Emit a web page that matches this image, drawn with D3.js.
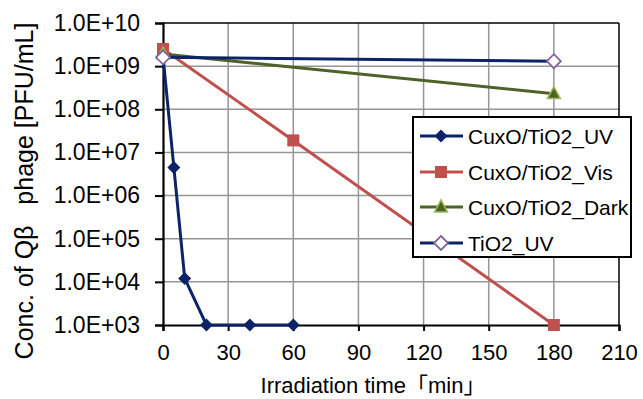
<!DOCTYPE html>
<html><head><meta charset="utf-8">
<script src="https://cdn.jsdelivr.net/npm/d3@7"></script>
<style>body{margin:0;background:#fff}svg{display:block}text{font-family:"Liberation Sans",Arial,"Noto Sans CJK JP",sans-serif;fill:#000}</style>
</head><body>
<svg id="c" width="643" height="399"></svg>
<script>
const seriesNames = ["CuxO/TiO2_UV","CuxO/TiO2_Vis","CuxO/TiO2_Dark","TiO2_UV"];
const timeUV = [0,5,10,20,40,60];
const cuxoUV = [1.7e9,4.5e6,1.2e4,1e3,1e3,1e3];
const timeVis = [0,60,180];
const cuxoVis = [2.5e9,1.9e7,1e3];
const timeDark = [0,180];
const cuxoDark = [1.9e9,2.3e8];
const timeTiO2 = [0,180];
const tio2UV = [1.6e9,1.3e9];
const xTicks = [0,30,60,90,120,150,180,210];
const yTicks = [1e3,1e4,1e5,1e6,1e7,1e8,1e9,1e10];
const yTickLabels = ["1.0E+03","1.0E+04","1.0E+05","1.0E+06","1.0E+07","1.0E+08","1.0E+09","1.0E+10"];

const svg = d3.select("#c");
const L=163,R=619,T=23,B=325;
const x = d3.scaleLinear().domain([0,210]).range([L,R]);
const y = d3.scaleLog().domain([1e3,1e10]).range([B,T]);

// grid
const g = svg.append("g");
g.selectAll(".vx").data(xTicks.slice(1,-1)).join("line")
  .attr("x1",d=>x(d)).attr("x2",d=>x(d)).attr("y1",T).attr("y2",B)
  .attr("stroke","#969696").attr("stroke-width",1.5);
g.selectAll(".hy").data(yTicks.slice(1,-1)).join("line")
  .attr("x1",L).attr("x2",R).attr("y1",d=>y(d)).attr("y2",d=>y(d))
  .attr("stroke","#969696").attr("stroke-width",1.5);
// border
svg.append("line").attr("x1",L).attr("x2",R).attr("y1",T).attr("y2",T).attr("stroke","#000").attr("stroke-width",1.5);
svg.append("line").attr("x1",R).attr("x2",R).attr("y1",T).attr("y2",B).attr("stroke","#000").attr("stroke-width",1.5);

// axes
const yAxis = d3.axisLeft(y).tickValues(yTicks).tickSize(8).tickPadding(15)
  .tickFormat((d,i)=>yTickLabels[i]);
const ya = svg.append("g").attr("transform",`translate(${L},0)`).call(yAxis);
const xAxis = d3.axisBottom(x).tickValues(xTicks).tickSize(6).tickPadding(12);
const xa = svg.append("g").attr("transform",`translate(0,${B})`).call(xAxis);
[ya,xa].forEach(a=>{
  a.select(".domain").attr("stroke","#000").attr("stroke-width",2.2);
  a.selectAll(".tick line").attr("stroke","#000").attr("stroke-width",2);
  a.selectAll("text").style("font-family",'"Liberation Sans",Arial,sans-serif').attr("fill","#000");
});
ya.selectAll("text").style("font-size","23px");
xa.selectAll("text").style("font-size","22px").attr("dy","0.75em");

// titles
svg.append("text").attr("x",373).attr("y",393).attr("text-anchor","middle")
  .style("font-size","22px").text("Irradiation time\u300Cmin\u300D");
svg.append("text").attr("transform","translate(33,191) rotate(-90)").attr("text-anchor","middle")
  .style("font-size","25px").text("Conc. of Q\u03B2\u00A0\u00A0\u00A0phage [PFU/mL]");

const navy="#0B2468", red="#C0504D", green="#4F6228", green2="#9BBB59", purple="#8064A2";
const line = d3.line().x(d=>x(d[0])).y(d=>y(d[1]));
const zip=(a,b)=>a.map((v,i)=>[v,b[i]]);

function marker(sel,type,size){
  if(type==="diamond"){
    sel.append("path").attr("d",`M0,${-size}L${size},0L0,${size}L${-size},0Z`);
  } else if(type==="square"){
    sel.append("rect").attr("x",-size).attr("y",-size).attr("width",2*size).attr("height",2*size);
  } else {
    sel.append("path").attr("d",`M0,${-size*1.1}L${size},${size*0.75}L${-size},${size*0.75}Z`);
  }
}
const series = [
  {d:zip(timeUV,cuxoUV),c:navy,m:"diamond",s:6.5,fill:navy,stroke:navy,sw:0},
  {d:zip(timeVis,cuxoVis),c:red,m:"square",s:6,fill:red,stroke:red,sw:0},
  {d:zip(timeDark,cuxoDark),c:green,m:"tri",s:6.5,fill:green,stroke:green2,sw:1.5},
  {d:zip(timeTiO2,tio2UV),c:navy,m:"diamond",s:7,fill:"#fff",stroke:purple,sw:1.8},
];
series.forEach(s=>{
  svg.append("path").datum(s.d).attr("d",line).attr("fill","none").attr("stroke",s.c).attr("stroke-width",3);
});
series.forEach(s=>{
  s.d.forEach(p=>{
    const m=svg.append("g").attr("transform",`translate(${x(p[0])},${y(p[1])})`);
    marker(m,s.m,s.s);
    m.selectAll("*").attr("fill",s.fill).attr("stroke",s.stroke).attr("stroke-width",s.sw);
  });
});

// legend
const lg = svg.append("g");
lg.append("rect").attr("x",413).attr("y",117).attr("width",218).attr("height",140)
  .attr("fill","#fff").attr("stroke","#000").attr("stroke-width",2);
const legY=[136,172,207,243];
series.forEach((s,i)=>{
  lg.append("line").attr("x1",420).attr("x2",463).attr("y1",legY[i]).attr("y2",legY[i]).attr("stroke",s.c).attr("stroke-width",3);
  const m=lg.append("g").attr("transform",`translate(441,${legY[i]})`);
  marker(m,s.m,s.s);
  m.selectAll("*").attr("fill",s.fill).attr("stroke",s.stroke).attr("stroke-width",s.sw);
  lg.append("text").attr("x",468).attr("y",legY[i]).attr("dy","0.36em").style("font-size","21px").text(seriesNames[i]);
});
</script>
</body></html>
